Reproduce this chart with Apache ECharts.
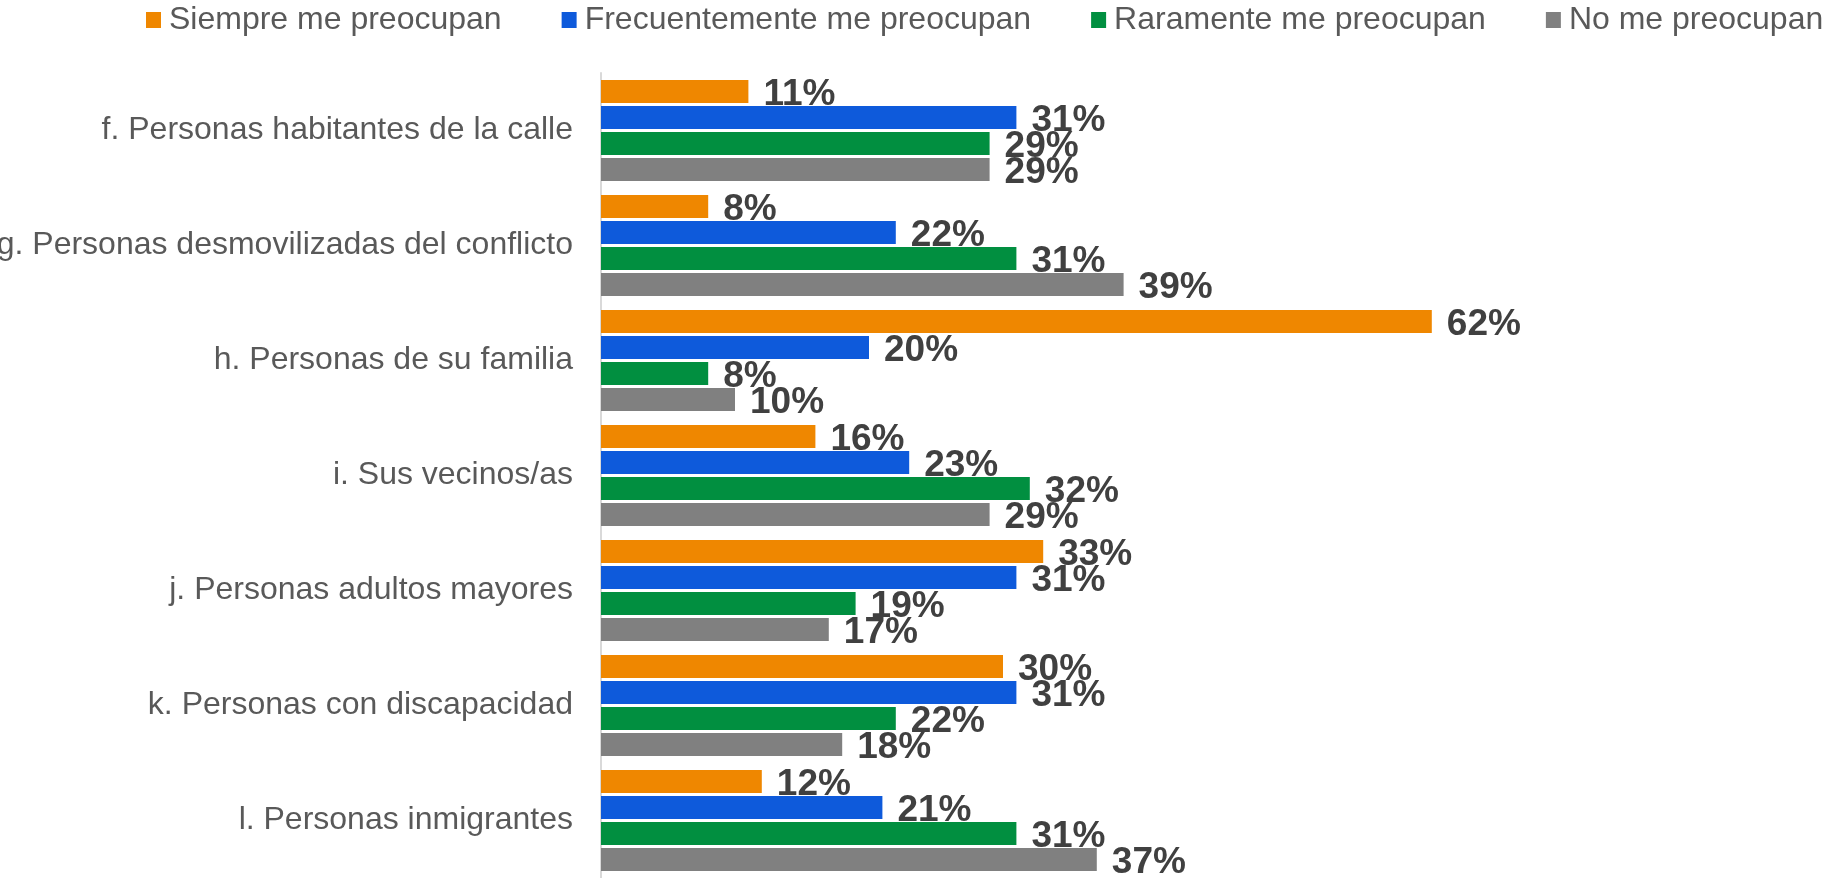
<!DOCTYPE html>
<html>
<head>
<meta charset="utf-8">
<script src="https://cdn.jsdelivr.net/npm/echarts@6/dist/echarts.min.js"></script>
<style>
  html, body { margin: 0; padding: 0; background: #ffffff; }
  #chart { width: 1824px; height: 878px; }
</style>
</head>
<body>
<div id="chart"></div>
<script>
// Survey groups (top to bottom)
const categories = [
  'f. Personas habitantes de la calle',
  'g. Personas desmovilizadas del conflicto',
  'h. Personas de su familia',
  'i. Sus vecinos/as',
  'j. Personas adultos mayores',
  'k. Personas con discapacidad',
  'l. Personas inmigrantes'
];

// Percentages per answer
const siempre        = [11, 8, 62, 16, 33, 30, 12];
const frecuentemente = [31, 22, 20, 23, 31, 31, 21];
const raramente      = [29, 31, 8, 32, 19, 22, 31];
const noPreocupan    = [29, 39, 10, 29, 17, 18, 37];

const seriesNames = [
  'Siempre me preocupan',
  'Frecuentemente me preocupan',
  'Raramente me preocupan',
  'No me preocupan'
];
const seriesData = [siempre, frecuentemente, raramente, noPreocupan];
const colors = ['#EF8700', '#0E5ADB', '#018F40', '#808080'];

const FONT = "'Liberation Sans', Arial, Helvetica, sans-serif";

const chart = echarts.init(document.getElementById('chart'), null, { renderer: 'canvas' });

chart.setOption({
  animation: false,
  backgroundColor: '#ffffff',
  color: colors,
  textStyle: { fontFamily: FONT },
  legend: {
    left: 141,
    top: -1,
    width: 1780,
    itemWidth: 15,
    itemHeight: 16,
    itemGap: 60,
    icon: 'rect',
    textStyle: { fontSize: 32, color: '#595959', fontFamily: FONT, padding: [0, 0, 0, 3] },
    data: seriesNames
  },
  grid: {
    left: 601,
    top: 73,
    bottom: 0,
    right: 285,
    containLabel: false,
    outerBoundsMode: 'none'
  },
  xAxis: {
    type: 'value',
    min: 0,
    max: 70,
    show: false
  },
  yAxis: {
    type: 'category',
    inverse: true,
    data: categories,
    axisLine: { show: true, lineStyle: { color: '#D9D9D9', width: 2 } },
    axisTick: { show: false },
    axisLabel: { fontSize: 32, color: '#595959', margin: 28, fontFamily: FONT }
  },
  series: seriesNames.map((name, i) => ({
    name: name,
    type: 'bar',
    data: seriesData[i],
    barCategoryGap: '12%',
    barGap: '13%',
    itemStyle: { color: colors[i] },
    label: {
      show: true,
      position: 'right',
      distance: 15,
      offset: [0, 3],
      formatter: '{c}%',
      fontSize: 37,
      fontWeight: 'bold',
      color: '#404040',
      fontFamily: FONT
    }
  }))
});
</script>
</body>
</html>
